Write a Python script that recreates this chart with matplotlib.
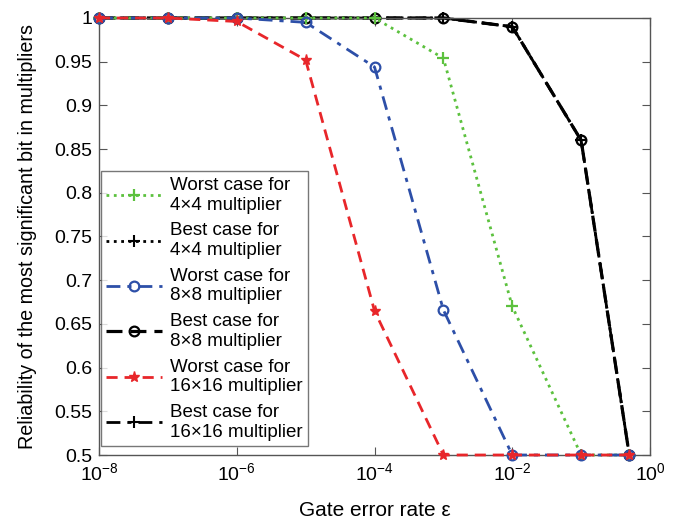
import numpy as np
import matplotlib
matplotlib.use("Agg")
import matplotlib.pyplot as plt
from matplotlib.ticker import FixedLocator, NullLocator

plt.rcParams['font.family'] = ['Liberation Sans', 'DejaVu Sans']
plt.rcParams['mathtext.fontset'] = 'custom'
plt.rcParams['mathtext.rm'] = 'Liberation Sans'
plt.rcParams['mathtext.it'] = 'Liberation Sans'

# Gate error rates
eps = [1e-8, 1e-7, 1e-6, 1e-5, 1e-4, 1e-3, 1e-2, 1e-1, 0.5]

# Reliability values
worst_4x4 = [1, 1, 1, 1, 1, 0.954, 0.670, 0.5, 0.5]
best_4x4 = [1, 1, 1, 1, 1, 1, 0.990, 0.860, 0.5]
worst_8x8 = [1, 1, 1, 0.995, 0.944, 0.666, 0.5, 0.5, 0.5]
best_8x8 = [1, 1, 1, 1, 1, 1, 0.990, 0.860, 0.5]
worst_16x16 = [1, 1, 0.996, 0.952, 0.665, 0.5, 0.5, 0.5, 0.5]
best_16x16 = [1, 1, 1, 1, 1, 1, 0.990, 0.860, 0.5]

fig = plt.figure(figsize=(6.95, 5.2), dpi=100)
ax = fig.add_axes([0.1424, 0.125, 0.7929, 0.8404])

lw = 2.0
ax.plot(eps, best_16x16, color='black', ls=(0, (5, 2.5, 1.5, 2.5)), lw=lw, marker='+', ms=8, mew=1.5,
        label='Best case for\n16\u00d716 multiplier', zorder=2)
ax.plot(eps, best_4x4, color='black', ls=':', lw=lw, marker='+', ms=8, mew=1.5,
        label='Best case for\n4\u00d74 multiplier', zorder=2)
ax.plot(eps, best_8x8, color='black', ls=(0, (5, 2.5)), lw=2.3, marker='o', ms=7, mew=1.6, mfc='none',
        label='Best case for\n8\u00d78 multiplier', zorder=2.5)
ax.plot(eps, worst_4x4, color='#5cc13e', ls=':', lw=lw, marker='+', ms=8, mew=1.6,
        label='Worst case for\n4\u00d74 multiplier', zorder=3)
ax.plot(eps, worst_8x8, color='#2d4fa8', ls=(0, (5, 2.5, 1.5, 2.5)), lw=lw, marker='o', ms=7, mew=1.6, mfc='none',
        label='Worst case for\n8\u00d78 multiplier', zorder=4)
ax.plot(eps, worst_16x16, color='#e8262a', ls=(0, (4, 2.5)), lw=lw, marker='*', ms=8, mew=1,
        label='Worst case for\n16\u00d716 multiplier', zorder=5)
for ln in ax.lines:
    ln.set_clip_on(False)

ax.set_xscale('log')
ax.set_xlim(1e-8, 1)
ax.set_ylim(0.5, 1)
ax.xaxis.set_major_locator(FixedLocator([1e-8, 1e-6, 1e-4, 1e-2, 1]))
ax.xaxis.set_minor_locator(NullLocator())
ax.set_xticklabels([r'$10^{-8}$', r'$10^{-6}$', r'$10^{-4}$', r'$10^{-2}$', r'$10^{0}$'])
yt = np.arange(0.5, 1.001, 0.05)
ax.set_yticks(yt)
ax.set_yticklabels(['0.5', '0.55', '0.6', '0.65', '0.7', '0.75', '0.8', '0.85', '0.9', '0.95', '1'])
ax.tick_params(direction='in', top=True, right=True, labelsize=14, length=6, color='#555555', pad=5)
for s in ax.spines.values():
    s.set_color('#555555')
    s.set_linewidth(1.0)

ax.set_xlabel('Gate error rate \u03b5', fontsize=15, labelpad=12)
ax.set_ylabel('Reliability of the most significant bit in multipliers', fontsize=14.2, labelpad=12)

handles, labels = ax.get_legend_handles_labels()
order = [3, 1, 4, 2, 5, 0]
leg = ax.legend([handles[i] for i in order], [labels[i] for i in order],
                loc='lower left', bbox_to_anchor=(0.003, 0.02), fontsize=13.5,
                frameon=True, fancybox=False, edgecolor='#555555', handlelength=3.0,
                handletextpad=0.4, labelspacing=0.47, borderpad=0.3, borderaxespad=0)
leg.get_frame().set_linewidth(1.0)

fig.savefig('out.png', dpi=100)
